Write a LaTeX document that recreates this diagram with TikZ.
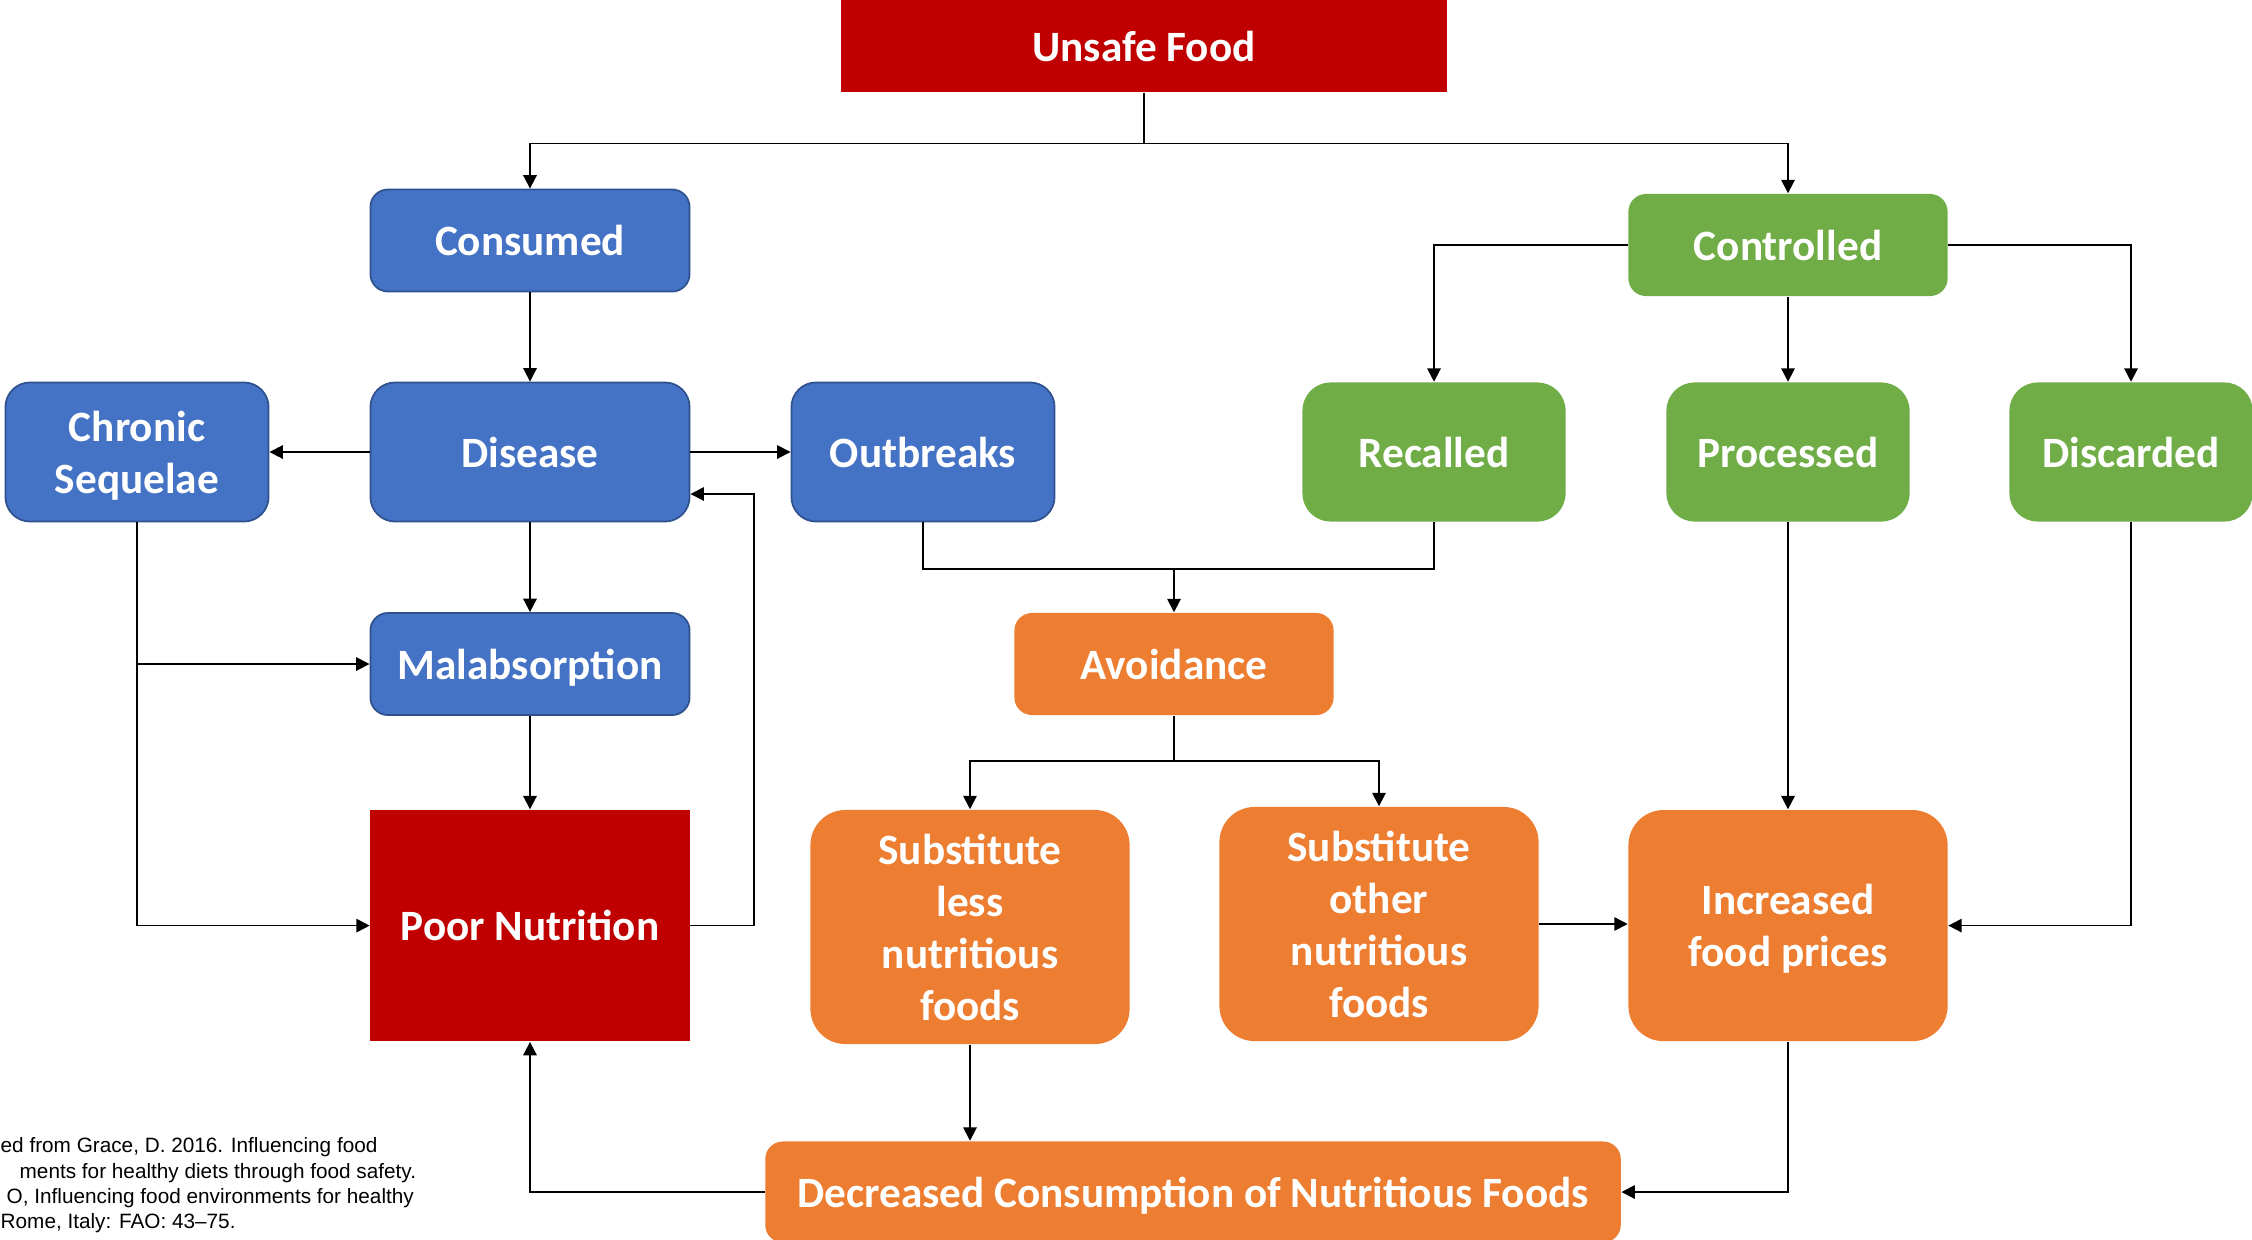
\documentclass[tikz,border=0pt]{standalone}
\usepackage{fontspec}
\setmainfont{Carlito}
\newfontfamily\citefont{Liberation Sans}
\usetikzlibrary{arrows.meta, calc}
\definecolor{unsafered}{RGB}{192,0,0}
\definecolor{diseaseblue}{RGB}{68,114,196}
\definecolor{diseaseedge}{RGB}{47,82,143}
\definecolor{controlgreen}{RGB}{112,173,71}
\definecolor{dietorange}{RGB}{237,125,49}
\tikzset{
  box/.style       = {align=center, text=white, inner sep=0pt, text depth=0pt,
                      font=\fontsize{12.3}{14.8}\selectfont\bfseries},
  bluebox/.style   = {box, draw=diseaseedge, line width=0.5pt, fill=diseaseblue, rounded corners=7pt},
  greenbox/.style  = {box, fill=controlgreen, rounded corners=8pt},
  orangebox/.style = {box, fill=dietorange, rounded corners=10pt},
  redbox/.style    = {box, fill=unsafered},
  wire/.style      = {line width=0.5pt, color=black},
  arrow/.style     = {wire, -{Triangle[length=3.8pt, width=3.8pt]}},
}
\begin{document}
\begin{tikzpicture}[x=0.01cm, y=-0.01cm]
  \fill[white] (0,0) rectangle (2252,1239);
  \useasboundingbox (0,0) rectangle (2252,1239);

  % top
  \node[redbox, minimum width=6.05cm, minimum height=0.92cm] (unsafe) at (1144,46) {Unsafe Food};

  % consumed branch
  \node[bluebox, minimum width=3.19cm, minimum height=1.02cm, rounded corners=5pt] (consumed) at (530,240.5) {Consumed};
  \node[bluebox, minimum width=3.19cm, minimum height=1.39cm] (disease) at (530,452) {Disease};
  \node[bluebox, minimum width=2.63cm, minimum height=1.39cm] (chronic) at (137,452) {Chronic\\Sequelae};
  \node[bluebox, minimum width=2.63cm, minimum height=1.39cm] (outbreaks) at (923,452) {Outbreaks};
  \node[bluebox, minimum width=3.19cm, minimum height=1.02cm, rounded corners=5pt] (malabs) at (530,664) {Malabsorption};
  \node[redbox, minimum width=3.19cm, minimum height=2.31cm] (poor) at (530,925.6) {Poor Nutrition};

  % controlled branch
  \node[greenbox, minimum width=3.19cm, minimum height=1.02cm, rounded corners=5pt] (controlled) at (1788,245) {Controlled};
  \foreach \n/\x/\w/\t in {recalled/1434/2.63/Recalled, processed/1788/2.43/Processed,
                           discarded/2131/2.43/Discarded}
    \node[greenbox, minimum width=\w cm, minimum height=1.39cm] (\n) at (\x,452) {\t};

  % diet
  \node[orangebox, minimum width=3.19cm, minimum height=1.02cm, rounded corners=5pt] (avoid) at (1174,664) {Avoidance};
  \node[orangebox, minimum width=3.19cm, minimum height=2.34cm] (subless) at (970,927) {Substitute\\less\\nutritious\\foods};
  \node[orangebox, minimum width=3.19cm, minimum height=2.34cm] (subother) at (1379,924) {Substitute\\other\\nutritious\\foods};
  \node[orangebox, minimum width=3.19cm, minimum height=2.31cm] (increased) at (1788,925.6) {Increased\\food prices};
  \node[orangebox, minimum width=8.55cm, minimum height=1.01cm, rounded corners=5pt] (decreased) at (1193,1192) {Decreased Consumption of Nutritious Foods};

  \node[anchor=north west, align=left, inner sep=0pt, font=\citefont\fontsize{5.9}{7.2}\selectfont] (cite) at (0,1137)
    {ed from Grace, D. 2016. Influencing food\\\hspace*{0.19cm}ments for healthy diets through food safety.\\
     \hspace*{0.06cm}O, Influencing food environments for healthy\\Rome, Italy: FAO: 43–75.};

  % connectors
  \coordinate (split) at (1144,143.6);
  \draw[wire] (unsafe.south) -- (split);
  \draw[arrow] (split) -| (consumed.north);
  \draw[arrow] (split) -| (controlled.north);

  \draw[arrow] (consumed) -- (disease);
  \draw[arrow] (disease) -- (chronic);
  \draw[arrow] (disease) -- (outbreaks);
  \draw[arrow] (disease) -- (malabs);
  \draw[arrow] (malabs) -- (poor);
  \draw[arrow] (chronic.south) |- (malabs.west);
  \draw[arrow] (chronic.south) |- (poor.west);
  \coordinate (loop) at (754,494);
  \draw[arrow] (poor.east) -| (loop) -- (disease.east |- loop);

  \draw[arrow] (controlled.west) -| (recalled.north);
  \draw[arrow] (controlled) -- (processed);
  \draw[arrow] (controlled.east) -| (discarded.north);

  \coordinate (merge) at (1174,569);
  \draw[wire] (outbreaks.south) |- (merge) -| (recalled.south);
  \draw[arrow] (merge) -- (avoid.north);
  \coordinate (fork) at (1174,761);
  \draw[wire] (avoid.south) -- (fork);
  \draw[arrow] (fork) -| (subless.north);
  \draw[arrow] (fork) -| (subother.north);

  \draw[arrow] (subother.east) -- (subother.east -| increased.west);
  \draw[arrow] (processed) -- (increased);
  \draw[arrow] (discarded.south) |- (increased.east);
  \draw[arrow] (subless.south) -- (subless.south |- decreased.north);
  \draw[arrow] (decreased.west) -| (poor.south);
  \draw[arrow] (increased.south) |- (decreased.east);
\end{tikzpicture}
\end{document}
